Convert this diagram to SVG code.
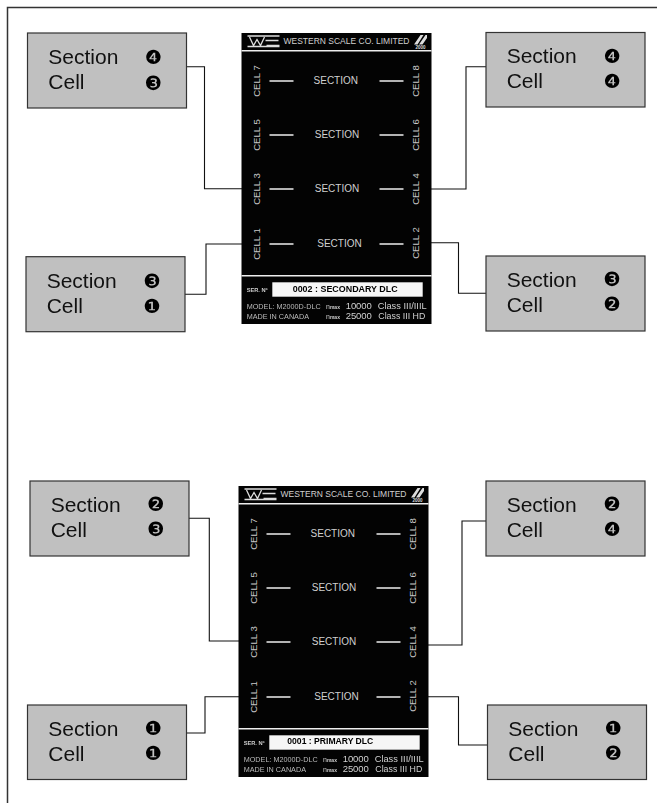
<svg xmlns="http://www.w3.org/2000/svg" width="657" height="803" viewBox="0 0 657 803">
<style>
text{font-family:"Liberation Sans",Arial,sans-serif}
.box{fill:#c0c0c0;stroke:#333;stroke-width:1.2}
.lb{font-size:21px;fill:#111}
.num{font-size:19.5px;fill:#000;font-family:"DejaVu Sans",sans-serif;text-anchor:middle}
.con{fill:none;stroke:#111;stroke-width:1.1}
.pan{fill:#000}
.wl{stroke:#eee;stroke-width:1.4;fill:none}
.s{font-size:10px;fill:#d0d0d0;text-anchor:middle}
.c{font-size:9.6px;fill:#c8c8c8;text-anchor:middle}
.t{font-size:7px;fill:#bbb}
.b{font-size:9.5px;fill:#d0d0d0}
.bt{font-size:9px;font-weight:bold;fill:#000}
</style>
<defs>
<g id="panel" opacity="0.99">
<rect class="pan" x="0" y="0" width="190" height="291"/>
<line class="wl" x1="0" y1="17.7" x2="190" y2="17.7"/>
<path d="M6 3H38M8 4L12 12.500L15.500 6.500L19 12.500L23 4M24 7.500H37M25 12.500H38M6 13.500H38" fill="none" stroke="#ddd" stroke-width="1.300"/>
<text x="42" y="11" font-size="9" fill="#d0d0d0" textLength="126" lengthAdjust="spacingAndGlyphs">WESTERN SCALE CO. LIMITED</text>
<path d="M172.500 11.500L179 2H182L176 11.500ZM177.500 11.500L184 2H185.500V5L181 11.500Z" fill="#ddd"/>
<text x="179" y="16" font-size="4.500" font-weight="bold" fill="#ddd" text-anchor="middle">2000</text>
<path class="wl" d="M28 48H52M138 48H162M28 102H52M138 102H162M28 156H52M138 156H162M28 211H52M138 211H162"/>
<text class="s" x="94.300" y="51">SECTION</text><text class="s" x="95.500" y="105">SECTION</text><text class="s" x="95.500" y="159">SECTION</text><text class="s" x="98" y="214">SECTION</text>
<text class="c" transform="translate(18.600,48) rotate(-90)">CELL 7</text>
<text class="c" transform="translate(177.500,48) rotate(-90)">CELL 8</text>
<text class="c" transform="translate(18.600,102) rotate(-90)">CELL 5</text>
<text class="c" transform="translate(177.500,102) rotate(-90)">CELL 6</text>
<text class="c" transform="translate(18.600,156) rotate(-90)">CELL 3</text>
<text class="c" transform="translate(177.500,156) rotate(-90)">CELL 4</text>
<text class="c" transform="translate(18.600,211) rotate(-90)">CELL 1</text>
<text class="c" transform="translate(177.500,210) rotate(-90)">CELL 2</text>
<line class="wl" x1="0" y1="242.700" x2="190" y2="242.700"/>
<text x="5.200" y="258.700" font-size="5" font-weight="bold" fill="#ccc" textLength="21" lengthAdjust="spacingAndGlyphs">SER. Nº</text>
<rect x="30.800" y="249.300" width="150.400" height="14.400" fill="#f6f6f6"/>
<text class="t" x="5.200" y="276.300" textLength="74" lengthAdjust="spacingAndGlyphs">MODEL: M2000D-DLC</text>
<text class="t" x="5.200" y="286.300" textLength="62.300" lengthAdjust="spacingAndGlyphs">MADE IN CANADA</text>
<text x="84.500" y="276.300" font-size="7" fill="#ccc">n<tspan font-size="5" font-weight="bold">max</tspan></text>
<text x="84.500" y="286.300" font-size="7" fill="#ccc">n<tspan font-size="5" font-weight="bold">max</tspan></text>
<text class="b" x="104.200" y="276.300" textLength="26">10000</text><text class="b" x="104.200" y="286.300" textLength="26">25000</text>
<text class="b" x="136.200" y="276.300" textLength="49" lengthAdjust="spacingAndGlyphs">Class III/IIIL</text><text class="b" x="136.800" y="286.300" textLength="47" lengthAdjust="spacingAndGlyphs">Class III HD</text>
</g>
</defs>
<path d="M7.500 803V7.500H657" fill="none" stroke="#333" stroke-width="1.500"/>
<g id="connectors">
<path class="con" d="M184 66.700H204.500V188.700H242"/>
<path class="con" d="M431 189H466V66.700H486"/>
<path class="con" d="M183 294.300H206V244H242"/>
<path class="con" d="M431 242.700H458.500V293.300H486"/>
<path class="con" d="M186 518.300H209.300V641H239"/>
<path class="con" d="M428 645H462V521H486"/>
<path class="con" d="M185 733H205V696.700H239"/>
<path class="con" d="M428 696.700H458.500V745H487"/>
</g>
<g id="panel-secondary"><use href="#panel" x="241.500" y="33"/>
<text class="bt" x="292.700" y="292" textLength="105" lengthAdjust="spacingAndGlyphs">0002 : SECONDARY DLC</text></g>
<g id="panel-primary"><use href="#panel" x="238.500" y="486"/>
<text class="bt" x="287.300" y="744.300" textLength="86" lengthAdjust="spacingAndGlyphs">0001 : PRIMARY DLC</text></g>
<g id="n1"><rect class="box" x="27.500" y="33" width="159" height="75"/><text class="lb" x="48.300" y="64">Section</text><text class="lb" x="48.300" y="89">Cell</text><text class="num" x="153.300" y="63.600">❹</text><text class="num" x="153.300" y="89.600">❸</text></g>
<g id="n2"><rect class="box" x="486" y="32.500" width="159" height="74.500"/><text class="lb" x="506.700" y="62.700">Section</text><text class="lb" x="506.700" y="88">Cell</text><text class="num" x="612" y="62.600">❹</text><text class="num" x="612" y="87.600">❹</text></g>
<g id="n3"><rect class="box" x="26" y="256.700" width="159" height="75"/><text class="lb" x="46.700" y="287.700">Section</text><text class="lb" x="46.700" y="312.700">Cell</text><text class="num" x="152" y="287.600">❸</text><text class="num" x="152" y="312.900">❶</text></g>
<g id="n4"><rect class="box" x="486" y="256" width="159" height="75"/><text class="lb" x="506.700" y="286.700">Section</text><text class="lb" x="506.700" y="312">Cell</text><text class="num" x="612" y="286.200">❸</text><text class="num" x="612" y="311.200">❷</text></g>
<g id="n5"><rect class="box" x="30" y="481" width="159" height="75"/><text class="lb" x="50.700" y="511.700">Section</text><text class="lb" x="50.700" y="536.700">Cell</text><text class="num" x="155.700" y="511.200">❷</text><text class="num" x="155.700" y="536.200">❸</text></g>
<g id="n6"><rect class="box" x="486" y="481" width="159" height="75"/><text class="lb" x="506.700" y="511.700">Section</text><text class="lb" x="506.700" y="536.700">Cell</text><text class="num" x="612" y="511.200">❷</text><text class="num" x="612" y="536.200">❹</text></g>
<g id="n7"><rect class="box" x="27.500" y="705" width="159" height="74.500"/><text class="lb" x="48.300" y="735.700">Section</text><text class="lb" x="48.300" y="760.700">Cell</text><text class="num" x="153.300" y="735.200">❶</text><text class="num" x="153.300" y="760.200">❶</text></g>
<g id="n8"><rect class="box" x="487.500" y="705" width="159" height="74.500"/><text class="lb" x="508.300" y="735.700">Section</text><text class="lb" x="508.300" y="760.700">Cell</text><text class="num" x="613.300" y="735.200">❶</text><text class="num" x="613.300" y="760.200">❷</text></g>
</svg>
